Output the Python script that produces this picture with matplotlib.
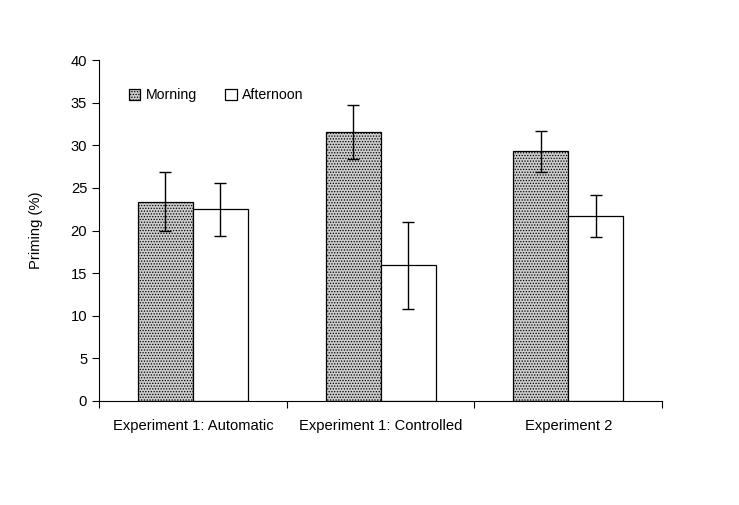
import matplotlib
matplotlib.use('Agg')
import matplotlib.pyplot as plt
import numpy as np

plt.rcParams['font.family'] = ['Liberation Sans', 'DejaVu Sans']
plt.rcParams['hatch.linewidth'] = 0.6
plt.rcParams['hatch.color'] = '#555555'

# Данные
groups = ['Experiment 1: Automatic', 'Experiment 1: Controlled', 'Experiment 2']
morning = [23.4, 31.6, 29.3]
morning_err = [3.5, 3.15, 2.4]
afternoon = [22.5, 15.95, 21.7]
afternoon_err = [3.1, 5.1, 2.5]

fig = plt.figure(figsize=(7.39, 5.05), dpi=100)
ax = fig.add_axes([0.134, 0.206, 0.762, 0.675])

x = np.arange(len(groups))
w = 0.293

ax.bar(x - w / 2, morning, w, color='#cccccc', edgecolor='black', hatch='......',
       linewidth=0.9, label='Morning')
ax.bar(x + w / 2, afternoon, w, color='white', edgecolor='black',
       linewidth=0.9, label='Afternoon')
ax.errorbar(x - w / 2, morning, yerr=morning_err, fmt='none', ecolor='black',
            elinewidth=1, capsize=4, capthick=1)
ax.errorbar(x + w / 2, afternoon, yerr=afternoon_err, fmt='none', ecolor='black',
            elinewidth=1, capsize=4, capthick=1)

ax.set_xlim(-0.5, len(groups) - 0.5)
ax.set_ylim(0, 40)
ax.set_yticks(range(0, 41, 5))
ax.set_xticks(np.arange(len(groups) + 1) - 0.5)
ax.set_xticklabels([])
ax.set_xticks(x, minor=True)
ax.set_xticklabels(groups, minor=True)
ax.tick_params(axis='x', which='minor', length=0, pad=13)
ax.tick_params(axis='x', which='major', length=5, direction='out')
ax.tick_params(axis='y', length=5, direction='out')
ax.tick_params(axis='both', which='both', labelsize=10.6)
ax.set_ylabel('Priming (%)', fontsize=10.6, labelpad=20)

for s in ['top', 'right']:
    ax.spines[s].set_visible(False)

ax.legend(loc='upper left', ncol=2, frameon=False, fontsize=10.2,
          handlelength=0.8, handleheight=0.8, handletextpad=0.4,
          columnspacing=2.0, bbox_to_anchor=(0.03, 0.955))

fig.savefig('out.png', dpi=100)
